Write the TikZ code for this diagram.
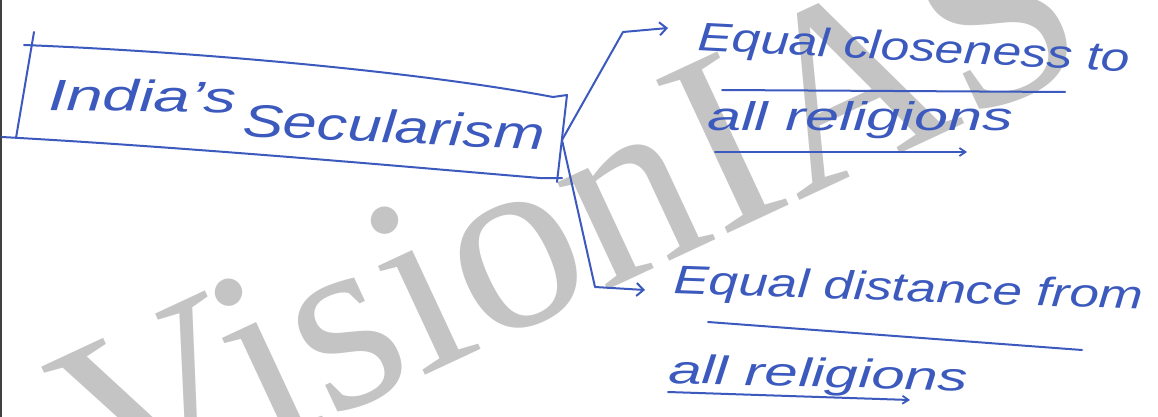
\documentclass[tikz,border=0pt]{standalone}
\usepackage{fontspec}
\setmainfont{Liberation Sans}
\newfontfamily\wmfont{Liberation Serif}
\usetikzlibrary{arrows.meta}
\definecolor{penblue}{RGB}{60,90,190}
\definecolor{wmgray}{RGB}{196,196,196}
\newcommand{\hw}[3]{\resizebox{#1pt}{\height}{\fontsize{#2pt}{#2pt}\selectfont\itshape #3}}
\begin{document}
\begin{tikzpicture}[x=1pt,y=-1pt,
  pen/.style={draw=penblue, line width=2pt, line cap=round, line join=round},
  txt/.style={text=penblue, inner sep=0pt, anchor=base west},
  bigtip/.style={-{Straight Barb[length=7pt,width=13pt,line width=2pt]}},
  smalltip/.style={-{Straight Barb[length=6pt,width=8pt,line width=1.8pt]}}]
\useasboundingbox (0,0) rectangle (1158,417);
\fill[white] (0,0) rectangle (1158,417);
\begin{scope}
\clip (0,0) rectangle (1158,417);
\node[text=wmgray, inner sep=0pt, anchor=base west, rotate=25,
      font=\wmfont\fontsize{258pt}{258pt}\selectfont] (wm) at (110,522) {VisionIAS};
\end{scope}
\fill[black!75] (0,0) rectangle (2,417);
% box
\draw[pen] (34,32) -- (16,138);
\draw[pen] (24,45) .. controls (200,52) and (420,72) .. (553,97) -- (567,95) -- (557,182);
\draw[pen] (2,137) .. controls (200,148) and (420,168) .. (540,178) -- (562,178);
\node[txt, rotate=-1] (t1) at (48,110) {\hw{188}{44}{India's}};
\node[txt, rotate=-2.6] (t2) at (242,136) {\hw{302}{46}{Secularism}};
% branches
\coordinate (J) at (562,140);
\coordinate (b1) at (623,32);
\coordinate (a1) at (668,28);
\coordinate (b2) at (595,287);
\coordinate (a2) at (645,290);
\draw[pen, bigtip] (J) -- (b1) -- (a1);
\draw[pen, bigtip] (J) -- (b2) -- (a2);
% right texts
\node[txt, rotate=-2.9] (r1) at (697,50) {\hw{433}{40}{Equal closeness to}};
\node[txt] (r2) at (707,131) {\hw{306}{40}{all religions}};
\node[txt, rotate=-2] (r3) at (673,293) {\hw{470}{40}{Equal distance from}};
\node[txt, rotate=-1.5] (r4) at (668,383) {\hw{300}{40}{all religions}};
% underlines
\draw[pen] (722,90) -- (1065,92);
\draw[pen, smalltip] (715,152) -- (967,152);
\draw[pen] (708,322) -- (1082,350);
\draw[pen, smalltip] (668,392) -- (910,400);
\end{tikzpicture}
\end{document}
